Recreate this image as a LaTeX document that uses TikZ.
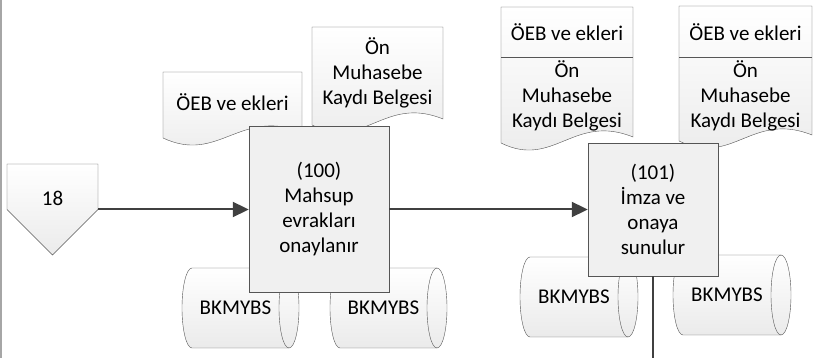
\documentclass[tikz,border=0pt]{standalone}
\usepackage{fontspec}
\setmainfont{Carlito}
\usetikzlibrary{arrows.meta,positioning,calc}
\definecolor{edgegray}{HTML}{555555}
\definecolor{flowgray}{HTML}{404040}
% document with wavy bottom: left, top, right, bottom-left
\newcommand{\docshape}[4]{%
  \path [draw=edgegray, top color=white, bottom color=gray!16] (#1, #2) -- (#3, #2) -- (#3, #4+6)
    .. controls ({#1+0.55*(#3-#1)}, #4+30) and ({#1+0.4*(#3-#1)}, #4-26) .. (#1, #4) -- cycle;}
% lying cylinder: left, bottom, right, top
\newcommand{\cylshape}[4]{%
  \path [draw=edgegray, top color=white, bottom color=gray!16] (#1+10, #4) -- (#3-10, #4)
    arc[start angle=90, end angle=-90, x radius=10, y radius={(#4-#2)/2}] -- (#1+10, #2)
    arc[start angle=270, end angle=90, x radius=10, y radius={(#4-#2)/2}] -- cycle;
  \draw [edgegray] (#3-10, #4) arc[start angle=90, end angle=270, x radius=10, y radius={(#4-#2)/2}];}

\begin{document}
\begin{tikzpicture}[x=1pt, y=1pt, font={\fontsize{21pt}{25pt}\selectfont},
    proc/.style={draw=edgegray, fill=gray!12, align=center},
    flow/.style={flowgray, line width=2pt, -{Triangle[length=16pt, width=15pt]}},
    outline/.style={flowgray, line width=2pt}]
      \useasboundingbox (0, 0) rectangle (819, 358);
      \draw [gray!70, line width=1.5pt] (1, 0) -- (1, 358);
      %documents
      \docshape{163}{286}{302}{220}
      \node (oeb1) at (232.5, 256) {ÖEB ve ekleri};
      \docshape{312}{331}{443}{233}
      \node[align=center] (onm1) at (377.5, 285) {Ön\\Muhasebe\\Kaydı Belgesi};
      \docshape{501}{351}{633}{215}
      \draw [edgegray] (501, 301) -- (633, 301);
      \node (oeb2) at (567, 326) {ÖEB ve ekleri};
      \node[align=center] (onm2) at (567, 262) {Ön\\Muhasebe\\Kaydı Belgesi};
      \docshape{679}{352}{812}{217}
      \draw [edgegray] (679, 301) -- (812, 301);
      \node (oeb3) at (745.5, 326) {ÖEB ve ekleri};
      \node[align=center] (onm3) at (745.5, 262) {Ön\\Muhasebe\\Kaydı Belgesi};
      %databases
      \cylshape{182}{10}{299}{90}
      \node (db1) at (235.5, 50) {BKMYBS};
      \cylshape{330}{10}{447}{90}
      \node (db2) at (383.5, 50) {BKMYBS};
      \cylshape{520}{21}{638}{101}
      \node (db3) at (574, 61) {BKMYBS};
      \cylshape{673}{23}{791}{103}
      \node (db4) at (727, 63) {BKMYBS};
      %off-page connector
      \path [draw=edgegray, top color=white, bottom color=gray!16] (7, 194) -- (98, 194) -- (98, 148.5) -- (52.5, 103) -- (7, 148.5) -- cycle;
      \node (off18) at (52.5, 160) {18};
      \coordinate (off18e) at (98, 148.5);
      %steps
      \node[proc, minimum width=140pt, minimum height=166pt] (p100) at (319, 148.5) {(100)\\Mahsup\\evrakları\\onaylanır};
      \node[proc, minimum width=130pt, minimum height=133pt] (p101) at (653, 148.5) {(101)\\İmza ve\\onaya\\sunulur};
      \coordinate (out101) at (653, 0);
      %edges
      \path [draw,flow] (off18e) to (p100);
      \path [draw,flow] (p100) to (p101);
      \path [draw,outline] (p101) to (out101);
    \end{tikzpicture}
\end{document}
